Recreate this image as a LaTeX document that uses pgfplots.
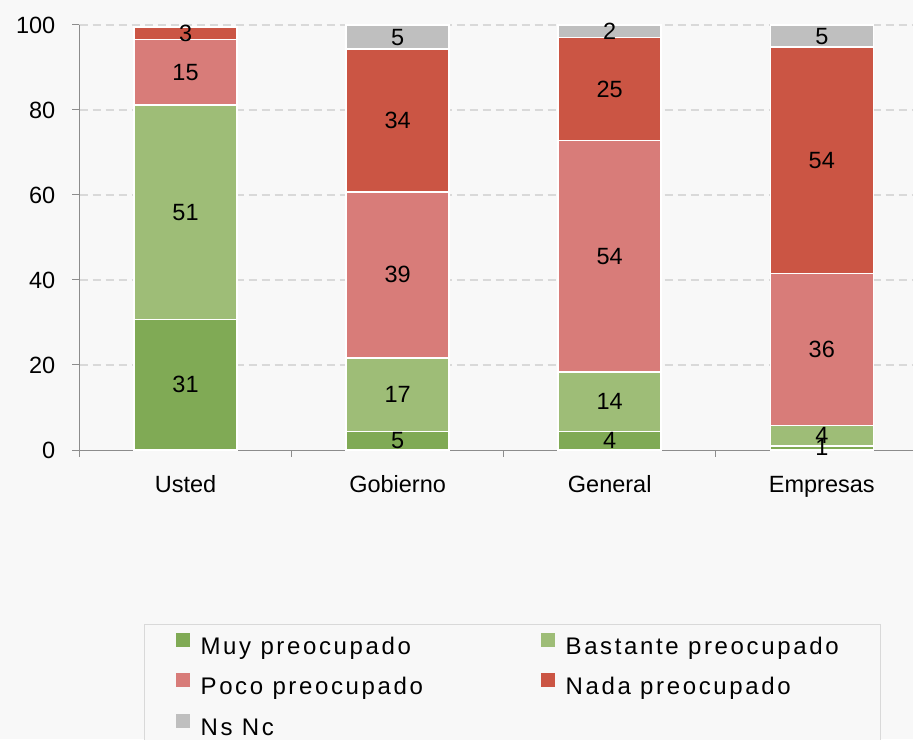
\documentclass[border=0pt]{standalone}
\usepackage{fontspec}
\setmainfont{Liberation Sans}
\newfontfamily\legfont{Liberation Sans}[LetterSpace=11]
\usepackage{pgfplots}
\usepackage{pgfplotstable}
\pgfplotsset{compat=1.18}
\definecolor{bg}{HTML}{F8F8F8}
\definecolor{cMuy}{HTML}{80AA55}
\definecolor{cBas}{HTML}{9EBD77}
\definecolor{cPoco}{HTML}{D87C79}
\definecolor{cNada}{HTML}{CB5544}
\definecolor{cNs}{HTML}{BFBFBF}
\definecolor{gridc}{HTML}{D9D9D9}
\definecolor{axisgray}{HTML}{8C8C8C}
\definecolor{legborder}{HTML}{D9D9D9}
\newcommand\fs{\fontsize{23.5pt}{28pt}\selectfont}

\pgfplotstableread{
x y lab
0 30.7 31
1 4.3 5
2 4.3 4
3 1.0 1
}\muy
\pgfplotstableread{
x y lab
0 50.5 51
1 17.4 17
2 14.1 14
3 4.8 4
}\bas
\pgfplotstableread{
x y lab
0 15.4 15
1 39.0 39
2 54.4 54
3 35.7 36
}\poco
\pgfplotstableread{
x y lab
0 2.9 3
1 33.6 34
2 24.3 25
3 53.3 54
}\nada
\pgfplotstableread{
x y lab
0 0 {}
1 5.7 5
2 2.9 2
3 5.2 5
}\nsnc

\pgfplotsset{
  mybar/.style={fill=#1, draw=white, line width=1.5pt,
    legend image code/.code={\fill[fill=#1,draw=none] (0pt,1.6pt) rectangle (14pt,15.6pt);}},
}

\begin{document}
\begin{tikzpicture}
\useasboundingbox (0,0) rectangle (913pt,739pt);
\fill[bg] (0,0) rectangle (913pt,739pt);
\begin{axis}[
  at={(79.5pt,289pt)}, anchor=south west,
  scale only axis, width=833.5pt, height=425pt,
  clip=false,
  ybar stacked, bar width=103pt,
  xmin=-0.5, xmax=3.43, ymin=0, ymax=100,
  enlargelimits=false,
  axis x line*=bottom, axis y line*=left,
  tick pos=left,
  xtick={-0.5,0.5,1.5,2.5},
  xticklabels={},
  extra x ticks={0,1,2,3},
  extra x tick labels={Usted,Gobierno,General,Empresas},
  extra x tick style={major tick length=0pt, major x tick style={draw=none}},
  ytick={20,40,60,80,100},
  extra y ticks={0},
  extra y tick style={grid=none},
  tick align=outside,
  major tick length=7pt,
  major x tick style={draw=axisgray, line width=1pt},
  major y tick style={draw=axisgray, line width=1pt},
  axis line style={draw=axisgray, line width=1pt, -},
  ymajorgrids,
  grid style={dash pattern=on 8pt off 5pt, draw=gridc, line width=1.3pt},
  /pgf/number format/assume math mode=true,
  ticklabel style={font=\fs},
  yticklabel style={anchor=east, inner sep=0pt, xshift=-17pt},
  xticklabel style={anchor=base, inner sep=0pt, yshift=-42pt},
  point meta=explicit symbolic,
  nodes near coords,
  every node near coord/.append style={font=\fs, text=black, anchor=center, inner sep=0pt},
  legend columns=2,
  legend cell align=left,
  legend style={
    at={(rel axis cs:0.0774,-0.4094)}, anchor=north west,
    draw=legborder, line width=1.2pt, fill=bg,
    inner xsep=31pt, inner ysep=8pt,
    row sep=14pt,
    /tikz/every odd column/.append style={column sep=11pt},
    nodes={inner sep=0pt, text height=17pt, text depth=5pt, font=\legfont\fontsize{24pt}{28pt}\selectfont},
  },
]
\addplot[mybar=cMuy] table[x=x,y=y,meta=lab] {\muy};
\addlegendentry{\makebox[340pt][l]{Muy preocupado}}
\addplot[mybar=cBas] table[x=x,y=y,meta=lab] {\bas};
\addlegendentry{\makebox[284pt][l]{Bastante preocupado}}
\addplot[mybar=cPoco] table[x=x,y=y,meta=lab] {\poco};
\addlegendentry{\makebox[340pt][l]{Poco preocupado}}
\addplot[mybar=cNada] table[x=x,y=y,meta=lab] {\nada};
\addlegendentry{\makebox[284pt][l]{Nada preocupado}}
\addplot[mybar=cNs] table[x=x,y=y,meta=lab] {\nsnc};
\addlegendentry{\makebox[340pt][l]{Ns Nc}}
\end{axis}
\end{tikzpicture}
\end{document}
